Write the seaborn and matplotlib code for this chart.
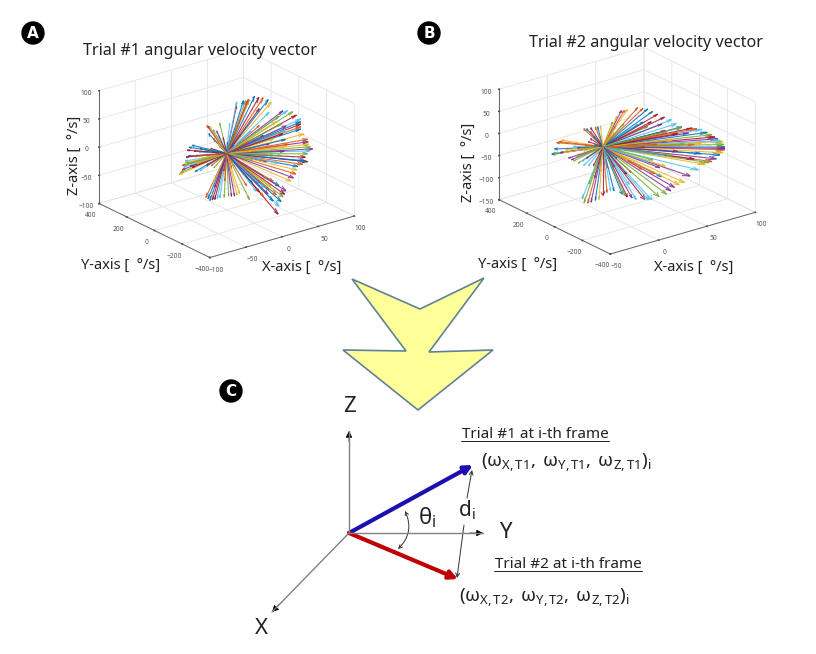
import seaborn as sns
import matplotlib
matplotlib.use("Agg")
import matplotlib.pyplot as plt
from matplotlib.patches import Polygon, Circle, FancyArrowPatch

# trial 1 vector tips
t1_x = [77, 89, 100, 90, 90, 90, 90, 90, 90, 90, 90, 90, 90, 90, 90, 90, 90, 40, 40, 40, 40, 40, 40,
        0, 0, 0, 0, 0, 0, 0, -50, -50, -50, -50, -50, -50, -30, -30, -30, 20, 20, 20, 20, 20,
        50, 50, 50, 50, 50, 50, 50, 50, 50, 50, 50, 50, 40, 40, 40, 40, 40, 40,
        -50, -50, -50, -50, -50, -50, -50, -50, -50, -50, -50,
        15, 15, 15, 15, -15, -15, -15, -15, -15]
t1_y = [200, 200, 200, 62, -9, -66, -66, -66, -116, -124, -152, -116, -81, -116, -45, -31, 5,
        -220, -199, -170, -163, -127, -56, -93, -57, -14, 50, 86, 121, 150, 82, 61, 39, 39, 25, -11,
        -14, -35, -85, 154, 83, 33, -17, -53,
        -75, -46, -75, -75, -25, -4, 25, -96, -168, -118, -46, 25, -170, -127, -77, -27, -98, -6,
        -25, -68, -25, -46, 4, 25, -68, -118, -132, -168, -204,
        29, -29, 7, 43, -29, 29, -7, -57, 14]
t1_z = [49, 42, 30, 35, 42, 36, 27, 18, 6, -2, -7, -20, -36, -34, -51, -66, -83,
        -55, -68, -88, -103, -84, -84, -60, -69, -74, -85, -92, -98, -96, -29, -18, -7, 0, 21, 34,
        62, 62, 61, 28, 36, 73, 88, 95,
        16, 4, -5, -13, -30, 14, 28, 49, 50, 62, 60, 58, -52, -49, -50, -64, -68, -81,
        26, 35, 16, 6, -5, -2, -4, 11, 69, 64, 59,
        5, 3, -15, -37, 21, 6, -6, -19, -22]
t1_more = [(90, 30, 39), (90, -35, 39), (90, -66, 31), (90, -66, 22), (90, -90, 12), (90, -120, 2),
           (90, -135, -5), (90, -130, -13), (90, -100, -28), (90, -100, -35), (90, -80, -43),
           (90, -38, -58), (90, -13, -75), (70, -30, 30), (70, -60, 22), (70, -40, 14), (70, -60, 6),
           (70, -80, 0), (70, -60, -6), (70, -50, -16), (70, -30, -26), (60, -60, -32),
           (83, 200, 45), (96, 200, 36), (60, 150, 55), (50, 100, 65), (40, 60, 70), (30, 20, 80),
           (10, -20, 90), (40, -210, -62), (40, -185, -78), (40, -150, -70), (40, -110, -60),
           (40, -90, -76), (20, -60, -82), (30, -110, -58), (30, -80, -70), (20, -80, -50),
           (20, -40, -60), (0, -75, -65), (0, -35, -72), (0, 18, -80), (0, 68, -88), (0, 103, -95),
           (0, 135, -97), (5, 40, -55), (0, 90, -60), (-5, 60, -65), (-50, 72, -24), (-50, 50, -12),
           (-50, 32, 8), (-50, 10, 28), (-50, 60, -10), (-50, 40, -3), (-50, 15, 12), (-40, 20, 8),
           (-40, -10, 18), (-40, 40, -15), (-40, 20, -20), (-35, -30, 20), (-35, -5, 5),
           (-30, -25, 62), (-30, -60, 60), (-25, -70, 50), (-20, -80, 45), (-20, -110, 40),
           (30, 0, 10), (30, -20, -5), (25, 30, 20), (30, -30, -20), (35, 10, 25), (-20, 10, 15),
           (-20, 30, -5), (-25, -20, -10), (-10, -30, -30), (10, 20, -30), (10, -10, 30)]

# trial 2 vector tips
t2_x = [90, 90, 90, 90, 90, 90, 90, 90, 90, 90, 90,
        50, 50, 50, 50, 50, 50, 50, 50, 50, 50, 50, 50, 50, 50, 50, 50, 50, 50, 50,
        20, 20, 20, 20, 20, 20, 20, 20, 20, 20, 20, 20,
        0, 0, 0, 0, 0, 0, 0,
        -30, -30, -30, -30, -30, -30, -30, -30, -30, -30, -30, -30, -30, -30, -30, -30, -30, -30]
t2_y = [-251, -251, -237, -201, -159, -87, -16, -216, -159, -109, -1,
        -216, -145, -45, 26, 98, -238, -166, -109, -2, 48, -74, -24, -24, -74, 26, 98, 48, -45, 69,
        -36, 7, 71, -100, -36, 0, -64, -36, 57, 36, 7, 79,
        -79, -29, 29, 86, 136, 150, -29,
        160, 124, 89, 39, 3, -69, -140, -90, -154, -190, -90, -47, 3, -104, -140, -119, -161]
t2_z = [-19, -25, -9, -8, -5, -4, -12, -42, -66, -80, -123,
        45, 52, 49, 50, 42, -76, -98, -122, -151, -158, -88, -89, -6, 31, 10, 4, -39, -41, -93,
        77, 68, 32, -117, -121, -120, -61, -38, -67, -8, -22, -3,
        -88, -99, -124, -139, -148, -141, -43,
        -23, 9, 20, -13, -14, -13, -3, 73, 87, 95, 6, 22, 19, 46, 63, 71, 27]
t2_more = [(90, -251, -22), (90, -245, -14), (90, -220, -9), (90, -180, -7), (90, -125, -5),
           (90, -50, -8), (90, -235, -34), (90, -190, -55), (90, -135, -72), (90, -60, -100),
           (90, -30, -80), (90, -80, -60), (80, -100, -30), (80, -150, -20), (80, -60, -10),
           (80, -30, -40), (50, -180, 48), (50, -95, 50), (50, -10, 50), (50, 60, 46), (50, -200, -87),
           (50, -140, -110), (50, -55, -136), (50, 20, -155), (50, -100, 20), (50, -60, 10),
           (50, -40, -20), (50, -100, -60), (50, -60, -70), (50, -10, -60), (50, 30, -70), (50, 0, 25),
           (50, 60, 15), (60, -40, 0), (60, -80, -10), (60, -120, -30), (60, -80, -45), (60, -20, -55),
           (60, -120, 10), (60, -150, 30), (20, -15, 72), (20, 40, 50), (20, -70, -118), (20, -18, -120),
           (20, -50, -90), (20, -30, -70), (20, 40, -45), (20, 30, -20), (20, 60, 10), (20, 50, 25),
           (20, -10, 40), (0, -55, -92), (0, 0, -110), (0, 55, -130), (0, 110, -145), (0, 20, -60),
           (0, 60, -80), (0, 100, -100), (0, -20, -25), (0, 30, -20), (-30, 140, -8), (-30, 105, 14),
           (-30, 60, 2), (-30, 20, -14), (-30, -30, -14), (-30, -105, -8), (-30, -120, 80),
           (-30, -170, 90), (-30, -70, 70), (-30, -70, 20), (-30, -25, 20), (-30, -20, 0), (-30, -60, -5),
           (-30, -120, 55), (-30, -150, 45), (-30, -80, 35), (-30, 70, -5), (-30, 100, -10), (-30, 140, -18)]

# matlab default line colours
line_colors = ["#0072bd", "#d95319", "#edb120", "#7e2f8e", "#77ac30", "#4dbeee", "#a2142f"]

xticks_a = [-100, -50, 0, 50, 100]
yticks_a = [-400, -200, 0, 200, 400]
zticks_a = [-100, -50, 0, 50, 100]
xticks_b = [-50, 0, 50, 100]
yticks_b = [-400, -200, 0, 200, 400]
zticks_b = [-150, -100, -50, 0, 50, 100]

chevron = [(352, 279), (420, 309), (484, 278), (429, 352), (493, 350),
           (418, 410), (343, 350), (406, 351)]

sns.set_theme(style="white")
plt.rcParams["font.family"] = ["Noto Sans", "DejaVu Sans"]
plt.rcParams["mathtext.fontset"] = "stix"
plt.rcParams["mathtext.default"] = "regular"
palette = sns.color_palette(line_colors)

fig = plt.figure(figsize=(8.16, 6.54), dpi=100, facecolor="white")


def vector_panel(rect, xs, ys, zs, more, xticks, yticks, zticks, aspect):
    ax = fig.add_axes(rect, projection="3d", facecolor="none")
    ax.set_proj_type("ortho")
    ax.view_init(elev=22, azim=-127.5)
    tips = list(zip(xs, ys, zs)) + more
    for i, (x, y, z) in enumerate(tips):
        ax.quiver(0, 0, 0, x, y, z, color=palette[i % 7], linewidth=0.8, arrow_length_ratio=0.07, alpha=0.85)
    ax.set_xlim(xticks[0], xticks[-1])
    ax.set_ylim(yticks[0], yticks[-1])
    ax.set_zlim(zticks[0], zticks[-1])
    ax.set_xticks(xticks)
    ax.set_yticks(yticks)
    ax.set_zticks(zticks)
    ax.set_box_aspect(aspect, zoom=1.28)
    ax.tick_params(labelsize=4.8, colors="#555555", width=0.4)
    ax.tick_params(axis="x", pad=-3.5)
    ax.tick_params(axis="y", pad=-3.5)
    ax.tick_params(axis="z", pad=-4)
    for axis in (ax.xaxis, ax.yaxis, ax.zaxis):
        axis.set_pane_color((1, 1, 1, 0))
        axis.pane.set_edgecolor("#d8d8d8")
        axis.line.set_color("#666666")
        axis.line.set_linewidth(0.7)
        axis._axinfo["grid"]["color"] = "#e4e4e4"
        axis._axinfo["grid"]["linewidth"] = 0.6
        axis._axinfo["tick"]["inward_factor"] = 0.03
        axis._axinfo["tick"]["outward_factor"] = 0.03
    return ax


ax_a = vector_panel([0.0642, 0.596, 0.42, 0.33], t1_x, t1_y, t1_z, t1_more, xticks_a, yticks_a, zticks_a, (184, 184, 123))
ax_b = vector_panel([0.555, 0.6, 0.42, 0.33], t2_x, t2_y, t2_z, t2_more, xticks_b, yticks_b, zticks_b, (184, 184, 120))

# overlay in pixel coordinates for the labels and the diagram
ov = fig.add_axes([0, 0, 1, 1], facecolor="none")
ov.set_xlim(0, 816)
ov.set_ylim(654, 0)
ov.axis("off")

for cx, cy, letter in [(33, 33, "A"), (429, 33, "B"), (231, 391, "C")]:
    ov.add_patch(Circle((cx, cy), 11, color="black"))
    ov.text(cx, cy, letter, color="white", fontsize=11, fontweight="bold", family="DejaVu Sans", ha="center", va="center")

ov.text(200, 51, "Trial #1 angular velocity vector", fontsize=11.7, ha="center", va="center", color="#222222")
ov.text(646, 43, "Trial #2 angular velocity vector", fontsize=11.7, ha="center", va="center", color="#222222")
ov.text(74, 155, "Z-axis [  °/s]", fontsize=10.5, rotation=90, ha="center", va="center", color="#222222")
ov.text(468, 162, "Z-axis [  °/s]", fontsize=10.5, rotation=90, ha="center", va="center", color="#222222")
ov.text(121, 265, "Y-axis [  °/s]", fontsize=10.5, ha="center", va="center", color="#222222")
ov.text(302, 267, "X-axis [  °/s]", fontsize=10.5, ha="center", va="center", color="#222222")
ov.text(518, 264, "Y-axis [  °/s]", fontsize=10.5, ha="center", va="center", color="#222222")
ov.text(694, 267, "X-axis [  °/s]", fontsize=10.5, ha="center", va="center", color="#222222")

ov.add_patch(Polygon(chevron, closed=True, facecolor="#ffff99", edgecolor="#5f8296", linewidth=1.2))

origin = (349, 533)
for end in [(349, 431), (483, 533), (272, 612)]:
    ov.plot([origin[0], end[0]], [origin[1], end[1]], color="#808080", linewidth=1)
    head_start = (end[0] + 0.1 * (origin[0] - end[0]), end[1] + 0.1 * (origin[1] - end[1]))
    ov.add_patch(FancyArrowPatch(head_start, end, arrowstyle="-|>", mutation_scale=10, color="black",
                                 linewidth=0.5, shrinkA=0, shrinkB=0))
ov.add_patch(FancyArrowPatch(origin, (473, 465), arrowstyle="-|>", mutation_scale=12, color="#1c0fb0",
                             linewidth=3, shrinkA=0, shrinkB=0))
ov.add_patch(FancyArrowPatch(origin, (458, 579), arrowstyle="-|>", mutation_scale=12, color="#c00000",
                             linewidth=3, shrinkA=0, shrinkB=0))
# angle and distance markers
ov.add_patch(FancyArrowPatch((405, 511), (398, 549), arrowstyle="<->", mutation_scale=6, color="#333333",
                             linewidth=0.7, connectionstyle="arc3,rad=-0.35", shrinkA=0, shrinkB=0))
ov.add_patch(FancyArrowPatch((467, 498), (472, 470), arrowstyle="->", mutation_scale=7, color="#333333",
                             linewidth=0.7, shrinkA=0, shrinkB=0))
ov.add_patch(FancyArrowPatch((464, 525), (457, 578), arrowstyle="->", mutation_scale=7, color="#333333",
                             linewidth=0.7, shrinkA=0, shrinkB=0))

ov.text(349, 407, "Z", fontsize=16, ha="center", va="center", color="#222222")
ov.text(505, 533, "Y", fontsize=16, ha="center", va="center", color="#222222")
ov.text(261, 629, "X", fontsize=16, ha="center", va="center", color="#222222")
ov.text(427, 518, r"$\theta_i$", fontsize=16, ha="center", va="center", color="#222222")
ov.text(467, 510, r"$d_i$", fontsize=15, ha="center", va="center", color="#222222")

ov.text(535, 434, "Trial #1 at i-th frame", fontsize=11, ha="center", va="center", color="#222222")
ov.plot([461, 609], [441, 441], color="#222222", linewidth=0.7)
ov.text(566, 463, r"$(\omega_{X,T1},\ \omega_{Y,T1},\ \omega_{Z,T1})_i$", fontsize=13.5, ha="center", va="center", color="#222222")
ov.text(568, 564, "Trial #2 at i-th frame", fontsize=11, ha="center", va="center", color="#222222")
ov.plot([494, 642], [571, 571], color="#222222", linewidth=0.7)
ov.text(544, 598, r"$(\omega_{X,T2},\ \omega_{Y,T2},\ \omega_{Z,T2})_i$", fontsize=13.5, ha="center", va="center", color="#222222")

fig.savefig("out.png", dpi=100)
